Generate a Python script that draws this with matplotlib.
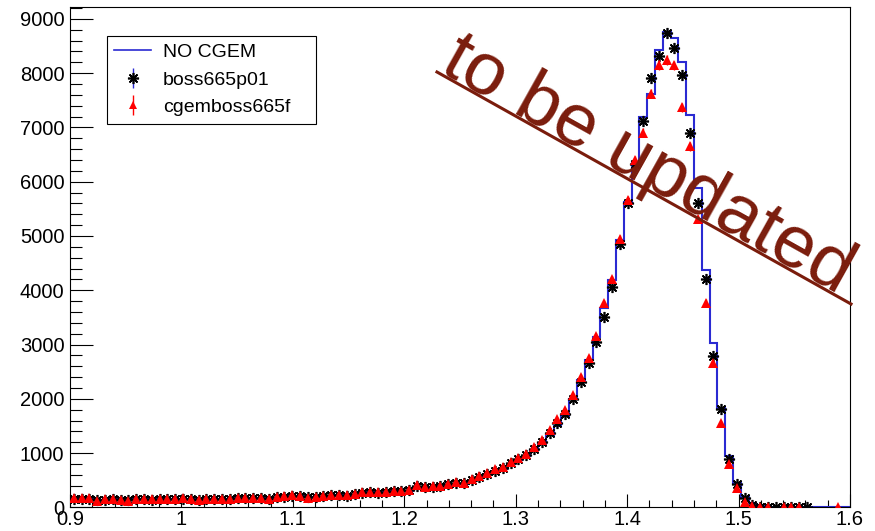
import numpy as np
import matplotlib
matplotlib.use("Agg")
import matplotlib.pyplot as plt
from matplotlib.lines import Line2D
from matplotlib.ticker import MultipleLocator, FuncFormatter

# ── histogram binning (100 bins over 0.9 – 1.6) ──────────────────────────────
X_MIN, X_MAX, N_BINS = 0.9, 1.6, 100

# ── bin contents ─────────────────────────────────────────────────────────────
no_cgem = [
    155, 158, 160, 135, 145, 150, 138, 135, 152, 148, 145, 150, 148, 152, 162, 150, 142,
    148, 152, 158, 158, 172, 175, 176, 170, 165, 182, 195, 210, 208, 185, 186, 202, 218,
    222, 218, 238, 265, 278, 272, 282, 296, 300, 312,
    380, 362, 378, 390, 420, 440, 440, 495, 550, 610, 665, 715, 800, 875, 940, 1050,
    1170, 1340, 1500, 1690,
    2000, 2348, 2716, 3140, 3668, 4190, 4926, 5632, 6368, 7197, 7610, 8425, 8762, 8655,
    8195, 7228, 5878, 4374, 3024, 1827, 954, 446, 199, 77,
    30, 15, 10, 8, 5, 5, 3, 2, 1, 0, 0, 0,
]

boss665p01 = [
    160, 160, 165, 135, 145, 150, 140, 135, 155, 150, 145, 152, 148, 155, 165, 150, 145,
    148, 155, 160, 160, 175, 178, 178, 172, 165, 185, 198, 215, 210, 185, 188, 205, 222,
    225, 220, 242, 270, 282, 275, 285, 300, 305, 318,
    390, 368, 385, 395, 430, 450, 445, 505, 565, 625, 680, 730, 815, 890, 960, 1075,
    1200, 1370, 1550, 1720,
    2000, 2317, 2667, 3054, 3510, 4066, 4853, 5600, 6330, 7124, 7904, 8315, 8733, 8457,
    7965, 6903, 5602, 4208, 2796, 1808, 888, 427, 169, 46,
    15, 10, 8, 5, 5, 4, 5, 0, 0, 0, 0, 0,
]

cgemboss665f = [
    170, 168, 170, 128, 150, 155, 140, 128, 162, 150, 152, 150, 150, 158, 168, 156, 140,
    150, 158, 162, 158, 182, 180, 182, 170, 162, 192, 204, 222, 215, 182, 190, 212, 230,
    230, 222, 250, 278, 290, 276, 292, 310, 312, 322,
    405, 372, 396, 400, 440, 460, 450, 520, 580, 640, 700, 750, 840, 920, 990, 1110,
    1240, 1420, 1630, 1790,
    2070, 2410, 2750, 3160, 3760, 4200, 4950, 5660, 6400, 6900, 7620, 8150, 8240, 8140,
    7370, 6650, 5310, 3770, 2660, 1550, 800, 354, 110, 30,
    12, 10, 0, 8, 6, 6, 0, 0, 0, 0, 5, 0,
]

labels = ["NO CGEM", "boss665p01", "cgemboss665f"]
stamp = "to be updated"

# ── style ─────────────────────────────────────────────────────────────────────
plt.rcParams["font.family"] = ["Liberation Sans", "DejaVu Sans"]
BLUE = "#2a2ad2"
STAMP = "#7a1c0c"


def points(vals):
    """Bin centres / contents / errors, empty bins dropped (ROOT 'E' style)."""
    v = np.asarray(vals, dtype=float)
    edges = np.linspace(X_MIN, X_MAX, N_BINS + 1)
    centres = 0.5 * (edges[:-1] + edges[1:])
    keep = v > 0
    return centres[keep], v[keep], np.sqrt(v[keep])


fig = plt.figure(figsize=(8.75, 5.31), dpi=100)
ax = fig.add_axes([0.080, 0.0443, 0.8914, 0.942])

edges = np.linspace(X_MIN, X_MAX, N_BINS + 1)
ax.stairs(no_cgem, edges, baseline=None, color=BLUE, lw=1.5, zorder=2)

x, y, e = points(boss665p01)
ax.errorbar(x, y, yerr=e, fmt="none", ecolor=BLUE, elinewidth=1, zorder=3)
ax.plot(x, y, ls="none", marker=(8, 2, 0), ms=8, mew=1.2, color="black", zorder=4)

x, y, e = points(cgemboss665f)
ax.errorbar(x, y, yerr=e, fmt="none", ecolor="red", elinewidth=1, zorder=5)
ax.plot(x, y, ls="none", marker="^", ms=6.5, mew=0, color="red", zorder=6)

# ── axes ──────────────────────────────────────────────────────────────────────
ax.set_xlim(X_MIN, X_MAX)
ax.set_ylim(0, 9212)
ax.xaxis.set_major_locator(MultipleLocator(0.1))
ax.xaxis.set_minor_locator(MultipleLocator(0.02))
ax.yaxis.set_major_locator(MultipleLocator(1000))
ax.yaxis.set_minor_locator(MultipleLocator(200))
ax.xaxis.set_major_formatter(FuncFormatter(lambda v, _: f"{v:g}"))
ax.yaxis.set_major_formatter(FuncFormatter(lambda v, _: f"{v:.0f}"))

ax.tick_params(axis="both", which="both", direction="in", width=0.8,
               labelsize=14.5, top=False, right=False)
ax.tick_params(axis="y", which="major", length=16.5, pad=4)
ax.tick_params(axis="y", which="minor", length=8.5)
ax.tick_params(axis="x", which="major", length=9.5, pad=2)
ax.tick_params(axis="x", which="minor", length=5)
for s in ax.spines.values():
    s.set_linewidth(0.8)

# ── legend ────────────────────────────────────────────────────────────────────
h_blue = Line2D([], [], color=BLUE, lw=1.2)
h_black = (Line2D([], [], color=BLUE, lw=1, marker="|", ms=14, ls="none", mew=1),
           Line2D([], [], ls="none", marker=(8, 2, 0), ms=8, mew=1.2, color="black"))
h_red = (Line2D([], [], color="red", lw=1, marker="|", ms=14, ls="none", mew=1),
         Line2D([], [], ls="none", marker="^", ms=6, mew=0, color="red"))
leg = ax.legend([h_blue, h_black, h_red], labels, loc="upper left",
                bbox_to_anchor=(0.047, 0.943, 0.269, 0.0), mode="expand",
                fontsize=14, frameon=True,
                fancybox=False, edgecolor="black", framealpha=1,
                handlelength=1.9, labelspacing=0.5, borderpad=0.4,
                handletextpad=0.6, borderaxespad=0)
leg.get_frame().set_linewidth(0.8)

# ── "to be updated" stamp ─────────────────────────────────────────────────────
fig.add_artist(Line2D([0.4994, 0.9726], [0.8644, 0.4275], color=STAMP, lw=2.2,
                      transform=fig.transFigure))
fig.text(0.740, 0.688, stamp, color=STAMP, fontsize=54, rotation=-29.2,
         rotation_mode="anchor", ha="center", va="center")

fig.savefig("out.png", dpi=100)
